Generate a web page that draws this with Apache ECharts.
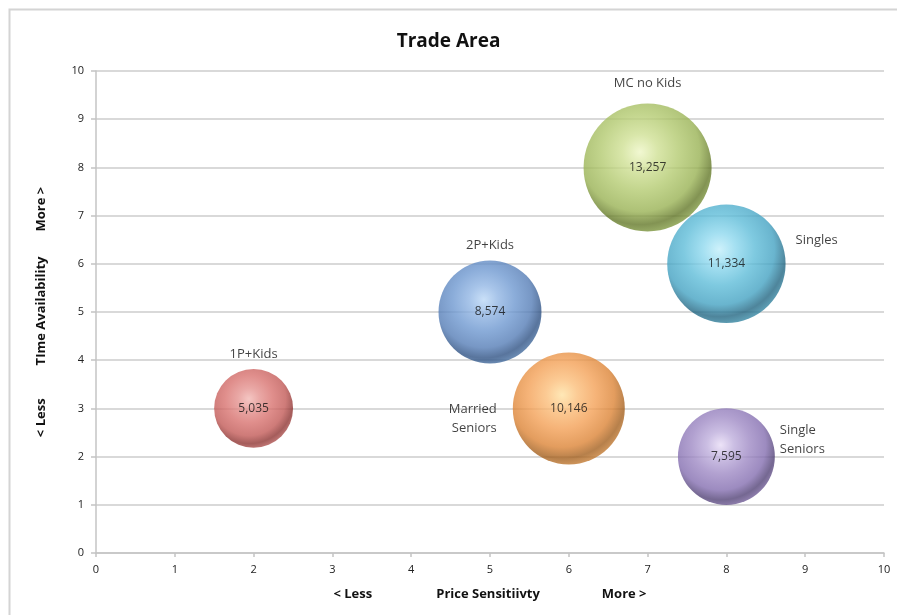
<!DOCTYPE html>
<html>
<head>
<meta charset="utf-8">
<script src="https://cdn.jsdelivr.net/npm/echarts@6/dist/echarts.min.js"></script>
<style>
html,body{margin:0;padding:0;background:#fff;}
#chart{width:897px;height:615px;}
</style>
</head>
<body>
<div id="chart"></div>
<script>
// ---- data ----
const segmentNames = ['1P+Kids', '2P+Kids', 'Married\nSeniors', 'MC no Kids', 'Singles', 'Single\nSeniors'];
const priceSensitivity = [2, 5, 6, 7, 8, 8];
const timeAvailability = [3, 5, 3, 8, 6, 2];
const households = [5035, 8574, 10146, 13257, 11334, 7595];
const axisTicks = [0, 1, 2, 3, 4, 5, 6, 7, 8, 9, 10];

// ---- styles ----
const palettes = [
  ['#f2b8b4', '#e4928f', '#d8726f', '#c25a57', '#8e3432', '#ae5250'],
  ['#bcd8f6', '#92b6e4', '#6e98d0', '#557db6', '#2f5284', '#446c9e'],
  ['#ffe2a4', '#fbbe7a', '#f3a056', '#dc8436', '#a4601e', '#c27a32'],
  ['#eef6c6', '#cfe094', '#b3ca70', '#99b254', '#637828', '#7f9840'],
  ['#c2eefa', '#8ed8ee', '#5ebcd8', '#44a2c2', '#226682', '#3586a2'],
  ['#e8dcf6', '#beaedc', '#9e89c4', '#846eb0', '#524276', '#705c96']
];
const labelPlacement = [
  { position: 'top', distance: 5, offset: [0, 0] },
  { position: 'top', distance: 6, offset: [0, 0] },
  { position: 'left', distance: 16, offset: [0, 10] },
  { position: 'top', distance: 11, offset: [0, 0] },
  { position: 'right', distance: 10, offset: [0, -24] },
  { position: 'right', distance: 5, offset: [0, -17] }
];
const FONT = '"Open Sans", "Liberation Sans", sans-serif';
const sizeOf = v => 1.112 * Math.sqrt(v);

const chart = echarts.init(document.getElementById('chart'));

const bubbleData = households.map((v, i) => {
  const p = palettes[i];
  return {
    value: [priceSensitivity[i], timeAvailability[i], v],
    itemStyle: {
      color: new echarts.graphic.RadialGradient(0.44, 0.38, 0.63, [
        { offset: 0, color: p[0] },
        { offset: 0.22, color: p[1] },
        { offset: 0.48, color: p[2] },
        { offset: 0.74, color: p[3] },
        { offset: 0.9, color: p[4] },
        { offset: 1, color: p[5] }
      ])
    }
  };
});

const nameData = households.map((v, i) => ({
  value: [priceSensitivity[i], timeAvailability[i], v],
  label: {
    show: true,
    formatter: segmentNames[i],
    position: labelPlacement[i].position,
    distance: labelPlacement[i].distance,
    offset: labelPlacement[i].offset
  }
}));

const nameStyle = { fontFamily: FONT, fontSize: 13, fontWeight: 'bold', color: '#111' };

chart.setOption({
  animation: false,
  backgroundColor: '#ffffff',
  title: {
    text: 'Trade Area',
    left: 'center',
    top: 27,
    textStyle: { fontFamily: FONT, fontSize: 19, fontWeight: 'bold', color: '#111' }
  },
  graphic: [{
    type: 'rect',
    left: 7, top: 7,
    shape: { width: 1000, height: 1000 },
    style: { fill: 'none', stroke: '#d4d4d4', lineWidth: 2 },
    silent: true
  }],
  grid: { left: 96, right: 13, top: 71, bottom: 62 },
  xAxis: {
    type: 'value', min: 0, max: 10, interval: 1,
    name: '{a|< Less}{b|Price Sensitiivty}{c|More >}',
    nameLocation: 'middle', nameGap: 35,
    nameTextStyle: {
      rich: {
        a: nameStyle,
        b: Object.assign({}, nameStyle, { padding: [0, 62, 0, 64] }),
        c: nameStyle
      }
    },
    axisLine: { show: true, lineStyle: { color: '#c4c4c4', width: 1.5 } },
    axisTick: { show: true, length: 4, lineStyle: { color: '#c4c4c4', width: 1.5 } },
    splitLine: { show: false },
    axisLabel: { margin: 11, fontFamily: FONT, fontSize: 11, color: '#222',
      formatter: v => axisTicks.includes(v) ? String(v) : '' }
  },
  yAxis: {
    type: 'value', min: 0, max: 10, interval: 1,
    name: '{a|< Less}{b|TIme Availability}{c|More >}',
    nameLocation: 'middle', nameGap: 48, nameRotate: 90,
    nameTextStyle: {
      rich: {
        a: nameStyle,
        b: Object.assign({}, nameStyle, { padding: [0, 25, 0, 33] }),
        c: nameStyle
      }
    },
    axisLine: { show: true, lineStyle: { color: '#c4c4c4', width: 1.5 } },
    axisTick: { show: true, length: 5, lineStyle: { color: '#c4c4c4', width: 1.5 } },
    splitLine: { show: true, lineStyle: { color: '#cccccc', width: 1.5 } },
    axisLabel: { margin: 12, fontFamily: FONT, fontSize: 11, color: '#222',
      formatter: v => axisTicks.includes(v) ? String(v) : '' }
  },
  series: [
    {
      type: 'scatter',
      data: bubbleData,
      symbolSize: d => sizeOf(d[2]),
      label: {
        show: true, position: 'inside',
        formatter: p => p.value[2].toLocaleString('en-US'),
        fontFamily: FONT, fontSize: 12, color: '#111'
      },
      emphasis: { disabled: true },
      z: 2
    },
    {
      type: 'scatter',
      data: nameData,
      symbolSize: d => sizeOf(d[2]),
      itemStyle: { color: 'rgba(0,0,0,0)' },
      label: { fontFamily: FONT, fontSize: 13, color: '#111', lineHeight: 19 },
      silent: true,
      z: 3
    }
  ]
});
</script>
</body>
</html>
